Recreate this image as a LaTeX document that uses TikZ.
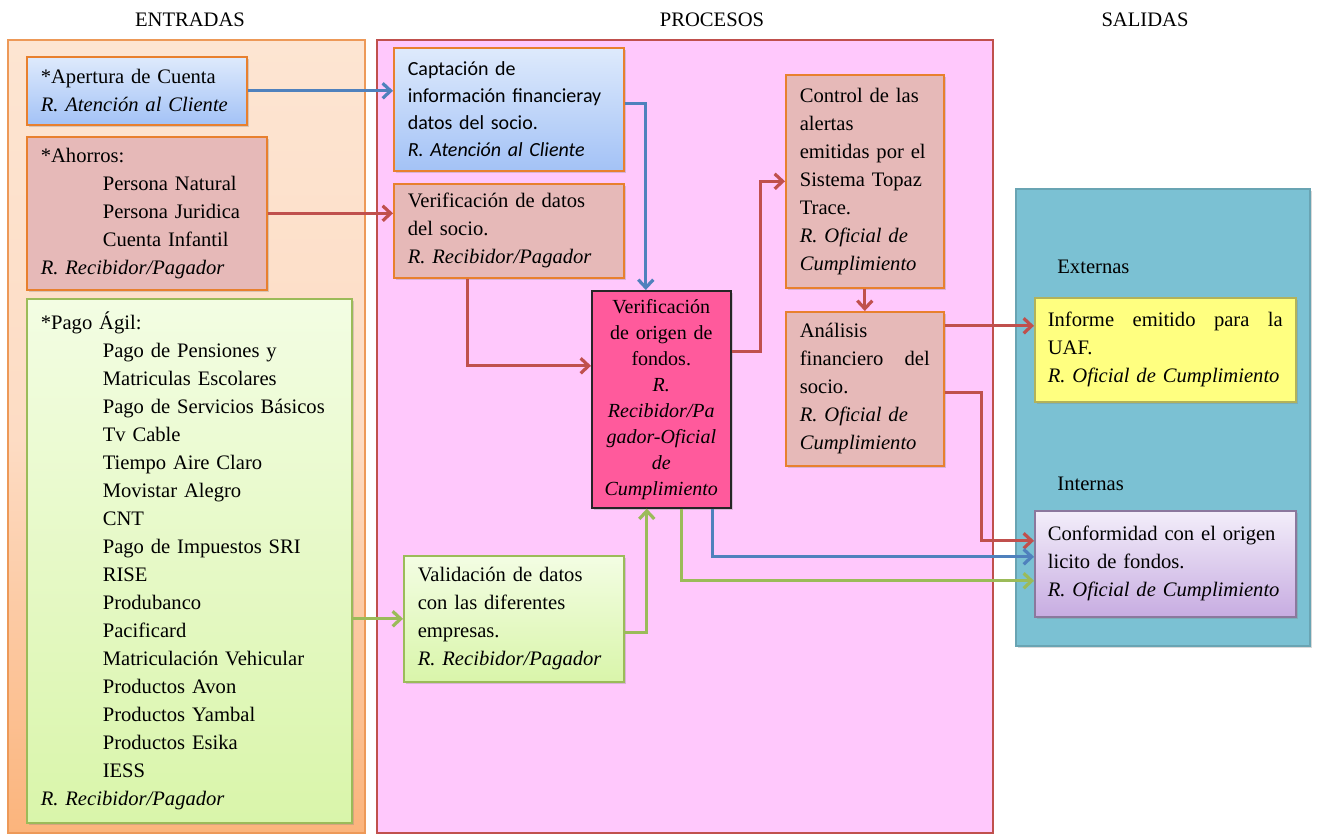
\documentclass[tikz,border=0pt]{standalone}
\usepackage{fontspec}
\setmainfont{Liberation Serif}
\newfontfamily\calibrifont{Carlito}
\usetikzlibrary{arrows.meta,shadows}
\hyphenpenalty=10000

\definecolor{arrblue}{HTML}{4F81BD}
\definecolor{arrred}{HTML}{C0504D}
\definecolor{arrgreen}{HTML}{9BBB59}
\definecolor{boxorange}{HTML}{E8802E}
\definecolor{rosefill}{HTML}{E6B9B8}
\definecolor{bluetop}{HTML}{DEEAFC}
\definecolor{bluebot}{HTML}{A3C2F6}
\definecolor{greentop}{HTML}{F3FDE3}
\definecolor{greenbot}{HTML}{D9F5AA}
\definecolor{peachtop}{HTML}{FDE5D2}
\definecolor{peachmid}{HTML}{FDDCC4}
\definecolor{peachbot}{HTML}{FBB47C}
\definecolor{pinkpanel}{HTML}{FFC8FC}
\definecolor{tealpanel}{HTML}{7BC1D3}
\definecolor{origenfill}{HTML}{FF5A9C}
\definecolor{yellowfill}{HTML}{FFFF80}
\definecolor{lilactop}{HTML}{F3EEFA}
\definecolor{lilacbot}{HTML}{C7ACE1}

\begin{document}
\begin{tikzpicture}[x=0.5pt,y=-0.5pt,>={Straight Barb[length=4pt,width=7.5pt]}]
 \tikzstyle{every node}=[font=\fontsize{10.3}{14}\selectfont]
 \tikzstyle{box}=[rectangle, draw=boxorange, line width=0.8pt, anchor=north west, align=left, inner xsep=7pt, inner ysep=2pt, drop shadow={shadow xshift=1.2pt, shadow yshift=-1.2pt, opacity=0.3}]
 \tikzstyle{rose}=[box, fill=rosefill]
 \tikzstyle{bluebox}=[box, top color=bluetop, bottom color=bluebot]
 \tikzstyle{greenbox}=[box, draw=arrgreen, top color=greentop, bottom color=greenbot]
 \tikzstyle{title}=[inner sep=0pt]
 \tikzstyle{flow}=[->, line width=1.6pt]
 \useasboundingbox (0,0) rectangle (1318,836);

 % columnas
 \node[title] (tent) at (190,20) {ENTRADAS};
 \node[title] (tpro) at (712,20) {PROCESOS};
 \node[title] (tsal) at (1145,20) {SALIDAS};
 \draw[draw=boxorange!80, line width=0.6pt, top color=peachtop, bottom color=peachbot, middle color=peachmid] (8,40) rectangle (365,833);
 \draw[draw=arrred, line width=0.6pt, fill=pinkpanel] (377,40) rectangle (993,833);
 \draw[draw=tealpanel!85!black, line width=0.6pt, fill=tealpanel, drop shadow={shadow xshift=1.2pt, shadow yshift=-1.2pt, opacity=0.3}] (1016,189) rectangle (1310,646);

 % entradas
 \node[bluebox, text width=96pt, minimum height=34pt] (apertura) at (26,56)
  {*Apertura de Cuenta\\\textit{R. Atención al Cliente}};
 \node[rose, text width=106pt, minimum height=76.5pt] (ahorros) at (26,136)
  {*Ahorros:\\
   \hspace*{31pt}Persona Natural\\
   \hspace*{31pt}Persona Juridica\\
   \hspace*{31pt}Cuenta Infantil\\
   \textit{R. Recibidor/Pagador}};
 \node[greenbox, text width=148.5pt, minimum height=262pt] (pago) at (26,298)
  {*Pago Ágil:\\
   \hspace*{31pt}Pago de Pensiones y\\
   \hspace*{31pt}Matriculas Escolares\\
   \hspace*{31pt}Pago de Servicios Básicos\\
   \hspace*{31pt}Tv Cable\\
   \hspace*{31pt}Tiempo Aire Claro\\
   \hspace*{31pt}Movistar Alegro\\
   \hspace*{31pt}CNT\\
   \hspace*{31pt}Pago de Impuestos SRI\\
   \hspace*{31pt}RISE\\
   \hspace*{31pt}Produbanco\\
   \hspace*{31pt}Pacificard\\
   \hspace*{31pt}Matriculación Vehicular\\
   \hspace*{31pt}Productos Avon\\
   \hspace*{31pt}Productos Yambal\\
   \hspace*{31pt}Productos Esika\\
   \hspace*{31pt}IESS\\
   \textit{R. Recibidor/Pagador}};

 % procesos
 \node[bluebox, text width=101pt, minimum height=61.5pt, font=\calibrifont\fontsize{10}{13.5}\selectfont] (captacion) at (393,47)
  {Captación de\\información financieray\\datos del socio.\\\textit{R. Atención al Cliente}};
 \node[rose, text width=101pt, minimum height=47pt] (verifdatos) at (393,183)
  {Verificación de datos\\del socio.\\\textit{R. Recibidor/Pagador}};
 \node[box, draw=black!85, fill=origenfill, align=center, inner xsep=4.75pt, text width=60pt, minimum height=108.5pt, font=\fontsize{10}{13}\selectfont] (origen) at (591,290)
  {Verificación\\de origen de\\fondos.\\\textit{R.}\\\textit{Recibidor/Pa}\\\textit{gador-Oficial}\\\textit{de}\\\textit{Cumplimiento}};
 \node[greenbox, text width=96pt, minimum height=63pt] (validacion) at (403,555)
  {Validación de datos\\con las diferentes\\empresas.\\\textit{R. Recibidor/Pagador}};
 \node[rose, text width=65pt, minimum height=106.5pt] (control) at (785,74)
  {Control de las\\alertas\\emitidas por el\\Sistema Topaz\\Trace.\\\textit{R. Oficial de}\\\textit{Cumplimiento}};
 \node[rose, text width=65pt, minimum height=77pt] (analisis) at (785,311)
  {Análisis\\financiero\hfill del\\socio.\\\textit{R. Oficial de}\\\textit{Cumplimiento}};

 % salidas
 \node[title, anchor=west] (externas) at (1057,267) {Externas};
 \node[title, anchor=west] (internas) at (1057,484) {Internas};
 \node[box, draw=yellowfill!70!black, fill=yellowfill, inner xsep=6.5pt, text width=117.5pt, minimum height=52pt] (informe) at (1034,297)
  {Informe\hfill emitido\hfill para\hfill la\\UAF.\\\textit{R. Oficial de Cumplimiento}};
 \node[box, draw=lilacbot!70!black, top color=lilactop, bottom color=lilacbot, inner xsep=6.5pt, text width=117.5pt, minimum height=53pt] (conformidad) at (1034,510)
  {Conformidad con el origen\\licito de fondos.\\\textit{R. Oficial de Cumplimiento}};

 % conectores
 \coordinate (a1) at ([yshift=31.5pt]analisis.east);
 \coordinate (o1) at ([yshift=24pt]origen.east);
 \draw[flow, arrblue] (apertura.east) -- (apertura.east -| captacion.west);
 \draw[flow, arrred] (ahorros.east) -- (ahorros.east -| verifdatos.west);
 \draw[flow, arrgreen] (validacion.west -| pago.east) -- (validacion.west);
 \draw[flow, arrblue] ([yshift=2.75pt]captacion.east) -| ([xshift=-7.75pt]origen.north);
 \draw[flow, arrred] ([xshift=-20.5pt]verifdatos.south) |- ([yshift=16.75pt]origen.west);
 \draw[flow, arrgreen] ([yshift=-7pt]validacion.east) -| ([xshift=-7.25pt]origen.south);
 \draw[flow, arrred] (o1) -- ++(14.5pt,0) |- (control.west);
 \draw[flow, arrred] (control.south) -- (analisis.north);
 \draw[flow, arrred] (a1) -- (a1 -| informe.west);
 \draw[flow, arrred] ([yshift=-2pt]analisis.east) -- ++(18.5pt,0) |- ([yshift=11.5pt]conformidad.west);
 \draw[flow, arrblue] ([xshift=25.75pt]origen.south) |- ([yshift=3.5pt]conformidad.west);
 \draw[flow, arrgreen] ([xshift=10.25pt]origen.south) |- ([yshift=-8.5pt]conformidad.west);
\end{tikzpicture}
\end{document}
